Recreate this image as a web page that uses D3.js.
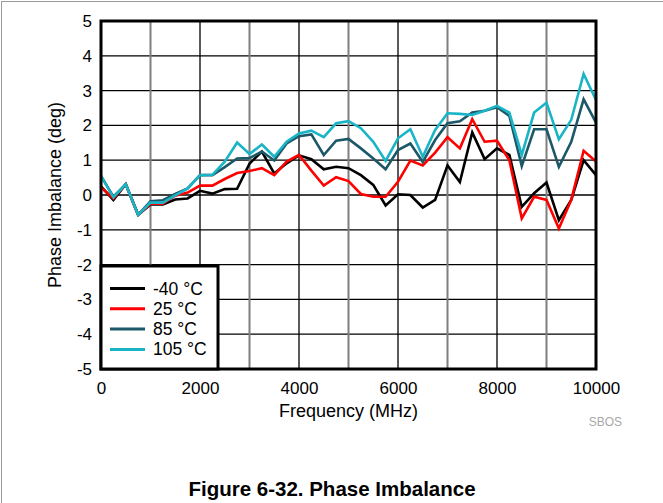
<!DOCTYPE html>
<html><head><meta charset="utf-8">
<script src="https://cdn.jsdelivr.net/npm/d3@7"></script>
<style>
html,body{margin:0;padding:0;background:#fff;}
svg{display:block;}
text{font-family:"Liberation Sans",Arial,Helvetica,sans-serif;}
</style></head>
<body>
<svg id="chart" width="663" height="503"></svg>
<script>
const frequencies = d3.range(0, 10001, 250);
const seriesNames = ["-40 °C", "25 °C", "85 °C", "105 °C"];
const seriesColors = ["#000000", "#ff0000", "#1d5868", "#19b4c6"];
const valsM40 = [0.25,-0.14,0.31,-0.57,-0.27,-0.27,-0.13,-0.1,0.12,0.04,0.17,0.18,0.9,1.25,0.62,0.91,1.14,1.03,0.74,0.81,0.77,0.57,0.29,-0.3,0.02,0.0,-0.36,-0.14,0.85,0.37,1.8,1.03,1.34,1.15,-0.34,0.05,0.36,-0.72,-0.14,1.0,0.57];
const vals25 = [0.22,-0.1,0.31,-0.57,-0.25,-0.25,-0.02,0.07,0.27,0.27,0.46,0.63,0.69,0.77,0.57,0.96,1.15,0.7,0.27,0.51,0.4,0.03,-0.05,-0.05,0.38,0.99,0.85,1.22,1.66,1.34,2.18,1.53,1.56,1.0,-0.67,-0.05,-0.14,-0.96,-0.14,1.27,0.96];
const vals85 = [0.55,-0.05,0.31,-0.57,-0.18,-0.15,0.03,0.19,0.57,0.57,0.8,1.05,1.06,1.25,0.99,1.48,1.69,1.74,1.15,1.56,1.61,1.34,1.05,0.74,1.29,1.48,0.95,1.58,2.06,2.12,2.37,2.42,2.52,2.27,0.83,1.89,1.89,0.81,1.53,2.75,2.08];
const vals105 = [0.55,-0.07,0.31,-0.57,-0.22,-0.22,-0.01,0.19,0.57,0.58,0.96,1.51,1.18,1.45,1.1,1.53,1.77,1.85,1.66,2.06,2.12,1.92,1.53,0.98,1.63,1.89,1.1,1.87,2.35,2.33,2.3,2.42,2.56,2.37,1.15,2.37,2.65,1.6,2.16,3.48,2.73];
const xTicks = [0, 2000, 4000, 6000, 8000, 10000];
const xGrid = d3.range(0, 10001, 1000);
const yTicks = [-5,-4,-3,-2,-1,0,1,2,3,4,5];
const xLabel = "Frequency (MHz)";
const yLabel = "Phase Imbalance (deg)";
const title = "Figure 6-32. Phase Imbalance";
const note = "SBOS";

const allSeries = [valsM40, vals25, vals85, vals105];

const svg = d3.select("#chart");
const L = 101, R = 596, T = 21, B = 369;
const x = d3.scaleLinear().domain([0, 10000]).range([L, R]);
const y = d3.scaleLinear().domain([-5, 5]).range([B, T]);
const fmt = d => String(d);

// outer frame (left/top visible)
svg.append("rect").attr("x", 1.5).attr("y", 1.5).attr("width", 800).attr("height", 800)
  .attr("fill", "none").attr("stroke", "#9a9a9a").attr("stroke-width", 1);

// grid
svg.append("g").selectAll("line").data(yTicks).join("line")
  .attr("x1", L).attr("x2", R).attr("y1", d => y(d)).attr("y2", d => y(d))
  .attr("stroke", "#000").attr("stroke-width", 1.3);
svg.append("g").selectAll("line").data(xGrid).join("line")
  .attr("x1", d => x(d)).attr("x2", d => x(d)).attr("y1", T).attr("y2", B)
  .attr("stroke", d => (d / 1000) % 2 ? "#7f7f7f" : "#000")
  .attr("stroke-width", d => (d / 1000) % 2 ? 2 : 1.3);

// lines
const line = d3.line().x((d, i) => x(frequencies[i])).y(d => y(d));
allSeries.forEach((s, k) => {
  svg.append("path").datum(s).attr("d", line).attr("fill", "none")
    .attr("stroke", seriesColors[k]).attr("stroke-width", 2.6)
    .attr("stroke-linejoin", "miter").attr("stroke-miterlimit", 4);
});

// border
svg.append("rect").attr("x", L).attr("y", T).attr("width", R - L).attr("height", B - T)
  .attr("fill", "none").attr("stroke", "#000").attr("stroke-width", 3);

// axes
const yAxis = svg.append("g").attr("transform", `translate(${L - 9},0)`)
  .call(d3.axisLeft(y).tickValues(yTicks).tickSize(0).tickPadding(0).tickFormat(fmt));
yAxis.select(".domain").remove();
yAxis.selectAll("text").attr("font-size", 17).attr("fill", "#000")
  .style("font-family", '"Liberation Sans",Arial,sans-serif');

const xAxis = svg.append("g").attr("transform", `translate(0,${B + 9})`)
  .call(d3.axisBottom(x).tickValues(xTicks).tickSize(0).tickPadding(4).tickFormat(fmt));
xAxis.select(".domain").remove();
xAxis.selectAll("text").attr("font-size", 17).attr("fill", "#000")
  .style("font-family", '"Liberation Sans",Arial,sans-serif');

svg.append("text").attr("x", (L + R) / 2).attr("y", 417).attr("text-anchor", "middle")
  .attr("font-size", 18).text(xLabel);
svg.append("text").attr("transform", `translate(61,${(T + B) / 2}) rotate(-90)`)
  .attr("text-anchor", "middle").attr("font-size", 18).text(yLabel);
svg.append("text").attr("x", 622).attr("y", 426).attr("text-anchor", "end")
  .attr("font-size", 12).attr("fill", "#a8a8a8").text(note);
svg.append("text").attr("x", 332).attr("y", 496).attr("text-anchor", "middle")
  .attr("font-size", 20.5).attr("font-weight", "bold").text(title);

// legend
const lg = svg.append("g");
lg.append("rect").attr("x", L).attr("y", 266).attr("width", 117).attr("height", B - 266)
  .attr("fill", "#fff").attr("stroke", "#000").attr("stroke-width", 3);
seriesNames.forEach((n, k) => {
  const yy = 288.5 + k * 20.3;
  lg.append("line").attr("x1", 110).attr("x2", 145).attr("y1", yy).attr("y2", yy)
    .attr("stroke", seriesColors[k]).attr("stroke-width", 3);
  lg.append("text").attr("x", 153).attr("y", yy + 6).attr("font-size", 17.5).text(n);
});
</script>
</body></html>
